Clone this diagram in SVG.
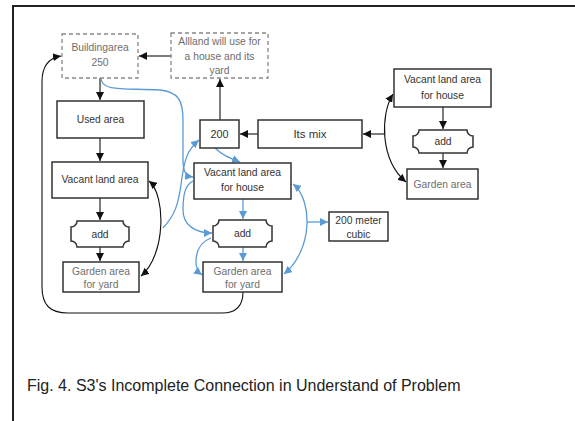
<svg xmlns="http://www.w3.org/2000/svg" width="575" height="421" viewBox="0 0 575 421">
<style>
.box{fill:#fff;stroke:#333;stroke-width:1.5}
.dash{fill:#fff;stroke:#888;stroke-width:1.3;stroke-dasharray:4,3}
.t{font-family:"Liberation Sans",Arial,sans-serif;font-size:10.3px;fill:#333;text-anchor:middle}
.g{fill:#6e6e6e}
.k{fill:none;stroke:#111;stroke-width:1.1}
.b{fill:none;stroke:#5b9bd5;stroke-width:1.3}
</style>
<defs>
<marker id="ak" markerUnits="userSpaceOnUse" markerWidth="9" markerHeight="8" refX="8" refY="4" orient="auto-start-reverse"><path d="M0,0 L8,4 L0,8 z" fill="#111"/></marker>
<marker id="ab" markerUnits="userSpaceOnUse" markerWidth="9" markerHeight="8" refX="8" refY="4" orient="auto-start-reverse"><path d="M0,0 L8,4 L0,8 z" fill="#5b9bd5"/></marker>
</defs>
<rect width="575" height="421" fill="#fff"/>
<g id="frame" stroke="#222" stroke-width="2" fill="none">
<path d="M575,6 L13,6 L13,421"/>
</g>
<g id="connectors">
<path class="k" d="M171,56 L139,56" marker-end="url(#ak)"/>
<path class="k" d="M100,78 L100,100" marker-end="url(#ak)"/>
<path class="k" d="M100,138 L100,161" marker-end="url(#ak)"/>
<path class="k" d="M100,198 L100,220" marker-end="url(#ak)"/>
<path class="k" d="M100,247 L100,261" marker-end="url(#ak)"/>
<path class="k" d="M149,181 C166,195 166,255 141,276" marker-start="url(#ak)" marker-end="url(#ak)"/>
<path class="k" d="M220,120 L220,79" marker-end="url(#ak)"/>
<path class="k" d="M258,134 L240,134" marker-end="url(#ak)"/>
<path class="k" d="M384,134 L363,134" marker-end="url(#ak)"/>
<path class="k" d="M443,107 L443,129" marker-end="url(#ak)"/>
<path class="k" d="M443,153 L443,168" marker-end="url(#ak)"/>
<path class="k" d="M393,94 C380,115 380,160 406,182" marker-start="url(#ak)" marker-end="url(#ak)"/>
<path class="k" d="M243,292 C243,306 236,313 222,313 L68,313 C50,313 42,305 42,287 L42,82 C42,66 48,58 61,56" marker-end="url(#ak)"/>
<path class="b" d="M101,79 C103,92 125,88 160,90 C178,92 183,100 183,120 L183,160 C183,172 186,176 193,177" marker-end="url(#ab)"/>
<path class="b" d="M163,228 C175,215 178,205 181,185 C184,160 187,150 199,140" marker-end="url(#ab)"/>
<path class="b" d="M193,181 C185,185 183,195 183,210 C183,225 195,233 212,233" marker-end="url(#ab)"/>
<path class="b" d="M211,238 C200,242 196,250 196,262 C196,269 198,272 202,275" marker-end="url(#ab)"/>
<path class="b" d="M215,148 C222,155 230,158 240,162" marker-end="url(#ab)"/>
<path class="b" d="M243,199 L243,219" marker-end="url(#ab)"/>
<path class="b" d="M243,247 L243,261" marker-end="url(#ab)"/>
<path class="b" d="M293,184 C313,200 313,250 284,274" marker-start="url(#ab)" marker-end="url(#ab)"/>
<path class="b" d="M307,222 L328,222" marker-end="url(#ab)"/>
</g>
<g id="building"><rect class="dash" x="62" y="34" width="76" height="44"/><text class="t g" x="100" y="51">Buildingarea</text><text class="t g" x="100" y="66">250</text></g>
<g id="allland"><rect class="dash" x="171" y="33" width="97" height="45"/><text class="t g" x="219.5" y="45">Allland will use for</text><text class="t g" x="219.5" y="60">a house and its</text><text class="t g" x="219.5" y="74">yard</text></g>
<g id="used"><rect class="box" x="57" y="101" width="87" height="37"/><text class="t" x="100.5" y="123">Used area</text></g>
<g id="vacantL"><rect class="box" x="52" y="162" width="96" height="36"/><text class="t" x="100" y="183">Vacant land area</text></g>
<g id="addL"><path class="box" d="M77,221 L123,221 A6,6 0 0 0 129,227 L129,241 A6,6 0 0 0 123,247 L77,247 A6,6 0 0 0 71,241 L71,227 A6,6 0 0 0 77,221 Z"/><text class="t" x="100" y="238">add</text></g>
<g id="gardenL"><rect class="box" x="63" y="262" width="76" height="30"/><text class="t g" x="101" y="275">Garden area</text><text class="t g" x="101" y="288">for yard</text></g>
<g id="n200"><rect class="box" x="200" y="120" width="39" height="28"/><text class="t" x="219.5" y="138" style="font-size:10.8px">200</text></g>
<g id="itsmix"><rect class="box" x="258" y="120" width="104" height="28"/><text class="t" x="310" y="138" style="font-size:11.5px">Its mix</text></g>
<g id="vacantR"><rect class="box" x="394" y="69" width="97" height="38"/><text class="t" x="442.5" y="83">Vacant land area</text><text class="t" x="442.5" y="99">for house</text></g>
<g id="addR"><path class="box" d="M419,130 L467,130 A6,6 0 0 0 473,136 L473,147 A6,6 0 0 0 467,153 L419,153 A6,6 0 0 0 413,147 L413,136 A6,6 0 0 0 419,130 Z"/><text class="t" x="443" y="145">add</text></g>
<g id="gardenR"><rect class="box" x="407" y="169" width="71" height="30"/><text class="t g" x="442.5" y="188">Garden area</text></g>
<g id="vacantM"><rect class="box" x="194" y="163" width="97" height="36"/><text class="t" x="242.5" y="176">Vacant land area</text><text class="t" x="242.5" y="191">for house</text></g>
<g id="addM"><path class="box" d="M219,220 L266,220 A6,6 0 0 0 272,226 L272,241 A6,6 0 0 0 266,247 L219,247 A6,6 0 0 0 213,241 L213,226 A6,6 0 0 0 219,220 Z"/><text class="t" x="242.5" y="237">add</text></g>
<g id="gardenM"><rect class="box" x="203" y="262" width="79" height="30"/><text class="t g" x="242.5" y="275">Garden area</text><text class="t g" x="242.5" y="288">for yard</text></g>
<g id="cubic"><rect class="box" x="329" y="212" width="59" height="29"/><text class="t" x="358.5" y="224">200 meter</text><text class="t" x="358.5" y="238">cubic</text></g>
<g id="caption"><text x="27" y="391" style="font-family:'Liberation Sans',Arial,sans-serif;font-size:16px;fill:#222">Fig. 4. S3's Incomplete Connection in Understand of Problem</text></g>
</svg>
